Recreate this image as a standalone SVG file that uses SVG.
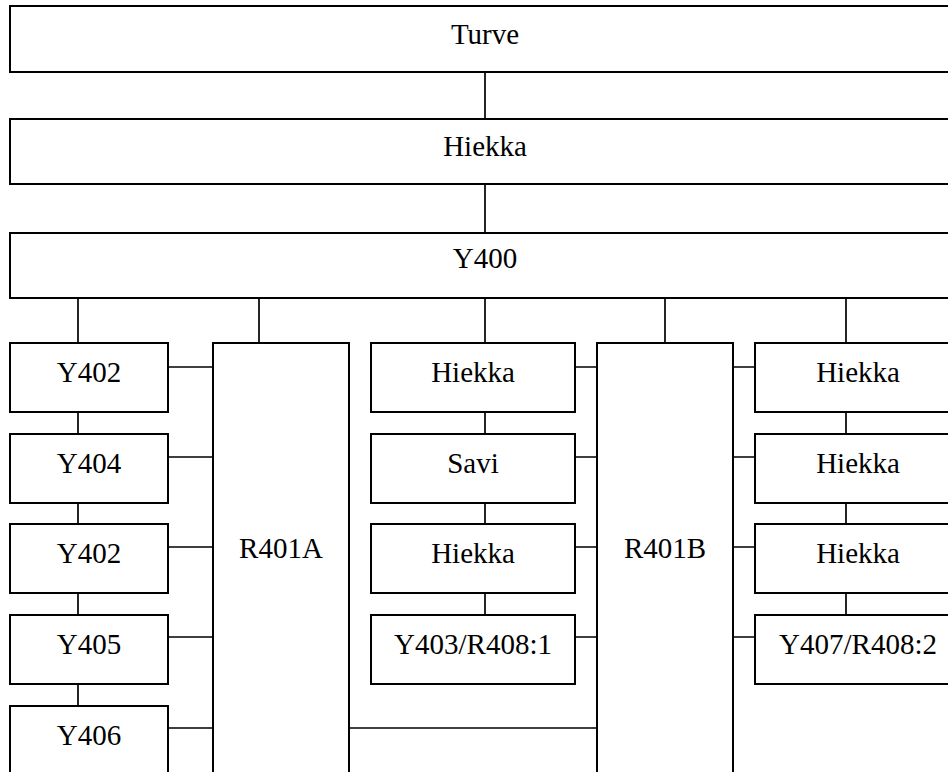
<svg xmlns="http://www.w3.org/2000/svg" width="948" height="772" viewBox="0 0 948 772">
<style>
.box{fill:#fff;stroke:#000;stroke-width:2}
.c{stroke:#000;stroke-width:1.7;fill:none}
text{font-family:"Liberation Serif","Times New Roman",serif;font-size:29px;fill:#000;text-anchor:middle}
</style>
<rect width="948" height="772" fill="#fff"/>
<g id="connectors">
<path class="c" d="M485 72V119M485 184V233M78 298V343M259 298V343M485 298V343M665 298V343M846 298V343"/>
<path class="c" d="M78 412V434M78 503V524M78 593V615M78 684V706"/>
<path class="c" d="M168 367H213M168 457H213M168 547H213M168 637H213M168 728H213"/>
<path class="c" d="M485 412V434M485 503V524M485 593V615"/>
<path class="c" d="M575 367H597M575 457H597M575 547H597M575 637H597"/>
<path class="c" d="M349 728H597"/>
<path class="c" d="M733 367H755M733 457H755M733 547H755M733 637H755"/>
<path class="c" d="M846 412V434M846 503V524M846 593V615"/>
</g>
<g id="turve"><rect class="box" x="10" y="6" width="960" height="66"/><text x="485" y="44">Turve</text></g>
<g id="hiekka-top"><rect class="box" x="10" y="119" width="960" height="65"/><text x="485" y="156">Hiekka</text></g>
<g id="y400"><rect class="box" x="10" y="233" width="960" height="65"/><text x="485" y="268">Y400</text></g>
<g id="y402a"><rect class="box" x="10" y="343" width="158" height="69"/><text x="89" y="382">Y402</text></g>
<g id="y404"><rect class="box" x="10" y="434" width="158" height="69"/><text x="89" y="473">Y404</text></g>
<g id="y402b"><rect class="box" x="10" y="524" width="158" height="69"/><text x="89" y="563">Y402</text></g>
<g id="y405"><rect class="box" x="10" y="615" width="158" height="69"/><text x="89" y="654">Y405</text></g>
<g id="y406"><rect class="box" x="10" y="706" width="158" height="80"/><text x="89" y="745">Y406</text></g>
<g id="r401a"><rect class="box" x="213" y="343" width="136" height="440"/><text x="281" y="558">R401A</text></g>
<g id="hiekka-m1"><rect class="box" x="371" y="343" width="204" height="69"/><text x="473" y="382">Hiekka</text></g>
<g id="savi"><rect class="box" x="371" y="434" width="204" height="69"/><text x="473" y="473">Savi</text></g>
<g id="hiekka-m2"><rect class="box" x="371" y="524" width="204" height="69"/><text x="473" y="563">Hiekka</text></g>
<g id="y403"><rect class="box" x="371" y="615" width="204" height="69"/><text x="473" y="654">Y403/R408:1</text></g>
<g id="r401b"><rect class="box" x="597" y="343" width="136" height="440"/><text x="665" y="558">R401B</text></g>
<g id="hiekka-r1"><rect class="box" x="755" y="343" width="206" height="69"/><text x="858" y="382">Hiekka</text></g>
<g id="hiekka-r2"><rect class="box" x="755" y="434" width="206" height="69"/><text x="858" y="473">Hiekka</text></g>
<g id="hiekka-r3"><rect class="box" x="755" y="524" width="206" height="69"/><text x="858" y="563">Hiekka</text></g>
<g id="y407"><rect class="box" x="755" y="615" width="206" height="69"/><text x="858" y="654">Y407/R408:2</text></g>
</svg>
